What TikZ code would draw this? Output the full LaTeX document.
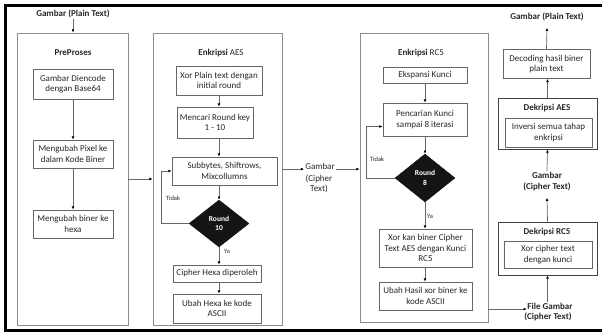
\documentclass[tikz,border=0pt]{standalone}
\usepackage{fontspec}
\setmainfont{Carlito}
\usetikzlibrary{shapes.geometric,arrows.meta,calc}
\begin{document}
\begin{tikzpicture}[x=1pt,y=-1pt,
  font=\fontsize{9}{10.5}\selectfont,
  module/.style={draw=black!45,line width=0.9pt,inner sep=0pt},
  dmodule/.style={draw=black!75,line width=0.9pt,inner sep=0pt},
  stepbox/.style={draw=black!60,line width=0.7pt,align=center,inner sep=0pt,text=black!85},
  title/.style={font=\fontsize{9}{10.5}\selectfont\bfseries,align=center,inner sep=0.5pt,text=black!85},
  decide/.style={diamond,fill=black!92,draw=black!92,text=white,font=\fontsize{7.5}{9.5}\selectfont\bfseries,align=center,inner sep=0pt},
  lab/.style={font=\fontsize{6.5}{8}\selectfont,inner sep=0pt,text=black!85},
  plain/.style={align=center,inner sep=1pt,text=black!85},
  arr/.style={draw=black!60,line width=0.7pt,-{Latex[length=3.2pt,width=2.8pt,color=black]}},
]
\useasboundingbox (0,0) rectangle (602,333);
\draw[line width=3pt] (602,5.5) -- (5.5,5.5) -- (5.5,330.5) -- (602,330.5);

% ---------- PreProses ----------
\node[module,minimum width=111pt,minimum height=292pt] (pre) at (72.5,179) {};
\node[title] (gin) at (73,14) {Gambar (Plain Text)};
\node[title] (prett) at (73,53) {PreProses};
\node[stepbox,minimum width=80pt,minimum height=30pt] (p1) at (73,84) {Gambar Diencode\\dengan Base64};
\node[stepbox,minimum width=80pt,minimum height=28pt] (p2) at (73,154) {Mengubah Pixel ke\\dalam Kode Biner};
\node[stepbox,minimum width=80pt,minimum height=28pt] (p3) at (73,224) {Mengubah biner ke\\hexa};
\draw[arr] (gin.south) -- (gin.south |- pre.north);
\draw[arr] (p1) -- (p2);
\draw[arr] (p2) -- (p3);

% ---------- Enkripsi AES ----------
\node[module,minimum width=129pt,minimum height=292pt] (aes) at (217.5,179) {};
\node[title] (aestt) at (221,53) {Enkripsi {\mdseries AES}};
\node[stepbox,minimum width=86pt,minimum height=29pt] (a1) at (219,80.5) {Xor Plain text dengan\\initial round};
\node[stepbox,minimum width=76pt,minimum height=31pt] (a2) at (215,122.5) {Mencari Round key\\1 - 10};
\node[stepbox,minimum width=105pt,minimum height=28pt] (a3) at (224.5,171) {Subbytes, Shiftrows,\\Mixcollumns};
\node[decide,minimum width=60pt,minimum height=47pt] (d1) at (219,223.5) {Round\\10};
\node[lab] (t1) at (173,198) {Tidak};
\node[lab] (y1) at (227,251) {Ya};
\node[stepbox,minimum width=88pt,minimum height=17pt] (a4) at (217,273.5) {Cipher Hexa diperoleh};
\node[stepbox,minimum width=88pt,minimum height=29pt] (a5) at (217,308.5) {Ubah Hexa ke kode\\ASCII};
\draw[arr] (a1.south) -- (a1.south |- a2.north);
\draw[arr] (a1.south |- a2.south) -- (a1.south |- a3.north);
\draw[arr] (d1.north |- a3.south) -- (d1.north);
\draw[arr] (d1.west) -- ++(-27,0) |- (a3.west);
\draw[arr] (d1.south) -- (d1.south |- a4.north);
\draw[arr] (a4.south -| d1.south) -- (a5.north -| d1.south);
\draw[arr] (pre.east) -- (aes.west);

% ---------- middle label ----------
\node[plain] (g2) at (320,166) {Gambar};
\node[plain] (g2b) at (319,184) {(Cipher\\Text)};

% ---------- Enkripsi RC5 ----------
\node[module,minimum width=128pt,minimum height=289pt] (rc5) at (424,177.5) {};
\node[title] (rctt) at (421,53) {Enkripsi {\mdseries RC5}};
\node[stepbox,minimum width=84pt,minimum height=16pt] (r1) at (425,75) {Ekspansi Kunci};
\node[stepbox,minimum width=84pt,minimum height=33pt] (r2) at (425,119.5) {Pencarian Kunci\\sampai 8 iterasi};
\node[decide,minimum width=60pt,minimum height=48pt] (d2) at (425,178) {Round\\8};
\node[lab] (t2) at (377,159) {Tidak};
\node[lab] (y2) at (430,216) {Ya};
\node[stepbox,minimum width=93pt,minimum height=38pt] (r3) at (425.5,248) {Xor kan biner Cipher\\Text AES dengan Kunci\\RC5};
\node[stepbox,minimum width=93pt,minimum height=28pt] (r4) at (425.5,296) {Ubah Hasil xor biner ke\\kode ASCII};
\draw[arr] (r1) -- (r2);
\draw[arr] (r2) -- (d2);
\draw[arr] (d2.west) -- ++(-28,0) |- ($(r2.west)+(0,7)$);
\draw[arr] (d2.south) -- (d2.south |- r3.north);
\draw[arr] (r3.south -| d2.south) -- (r4.north -| d2.south);
\draw[arr] (aes.east |- g2.base) -- (g2.base west);
\draw[arr] (g2.base east) -- (g2.base east -| rc5.west);

% ---------- right column ----------
\node[title] (fg) at (550,306) {File Gambar};
\node[title] (fgb) at (548,317) {(Cipher Text)};
\draw[arr] (rc5.east |- fg.base) -- (fg.base west);

\node[dmodule,minimum width=99pt,minimum height=53pt] (dr) at (547.5,248.5) {};
\node[title] (drt) at (547,232) {Dekripsi RC5};
\node[stepbox,minimum width=88pt,minimum height=27pt] (dr1) at (548,254.5) {Xor cipher text\\dengan kunci};
\draw[arr] (dr.south |- fg.north) -- (dr.south);

\node[title] (g3) at (547,175) {Gambar};
\node[title] (g3b) at (547,187) {(Cipher Text)};
\draw[arr] (dr.north) -- ($(g3b.south)+(0,6)$);

\node[dmodule,minimum width=99pt,minimum height=51pt] (da) at (547.5,123.5) {};
\node[title] (dat) at (547,108) {Dekripsi AES};
\node[stepbox,minimum width=87pt,minimum height=29pt] (da1) at (548.5,132.5) {Inversi semua tahap\\enkripsi};
\draw[arr] (g3.north) -- (da.south);

\node[stepbox,minimum width=87pt,minimum height=29pt] (dec) at (546.5,64) {Decoding hasil biner\\plain text};
\draw[arr] (da.north) -- (da.north |- dec.south);
\node[title] (gout) at (547,17) {Gambar (Plain Text)};
\draw[arr] (dec.north) -- ($(gout.south)+(0,6)$);
\end{tikzpicture}
\end{document}
